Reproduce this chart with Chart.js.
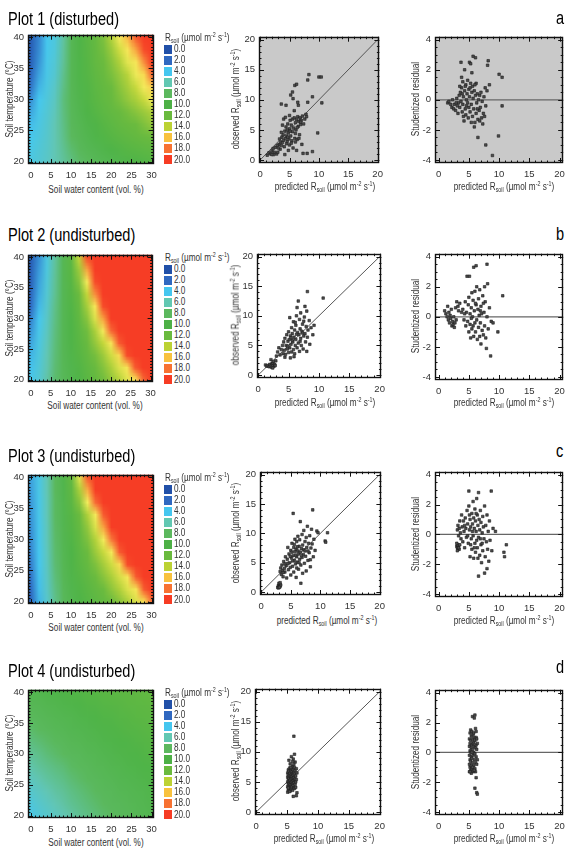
<!DOCTYPE html>
<html lang="en">
<head>
<meta charset="UTF-8">
<title>Soil respiration model fits</title>
<script src="https://cdn.jsdelivr.net/npm/chart.js"></script>
<style>
  body { margin: 0; background: #fff; }
  #fig { position: relative; width: 569px; height: 858px; overflow: hidden;
         font-family: 'Liberation Sans', Arial, sans-serif; color: #222; }
  #fig canvas { position: absolute; }
  .t { position: absolute; white-space: nowrap; line-height: 1; }
  .big { font-size: 18px; color: #000; transform: scaleX(0.81); transform-origin: 0 50%; }
  .lab { font-size: 10px; color: #333; }
  .left { transform: scaleX(0.82); transform-origin: 0 50%; }
  .ctr { transform: translate(-50%, -50%) scaleX(0.82); }
  .rot { transform: translate(-50%, -50%) rotate(-90deg) scaleX(0.82); }
  .sb { font-size: 6.5px; vertical-align: -2px; }
  .sp { font-size: 6.5px; vertical-align: 4px; }
  .sw { position: absolute; width: 8px; height: 9px; }
</style>
</head>
<body>
<div id="fig"></div>
<script>
// ---- data ----
const swcCenters = [0, 2, 4, 6, 8, 10, 12, 14, 16, 18, 20, 22, 24, 26, 28, 30];
const tempCenters = [40, 38, 36, 34, 32, 30, 28, 26, 24, 22, 20];

const heat1 = [
  [1.0, 2.6, 4.0, 4.6, 6.5, 8.8, 10.0, 10.8, 11.6, 12.4, 13.5, 14.8, 16.5, 19.0, 21.0, 22.0],
  [1.1, 2.7, 4.1, 4.7, 6.6, 8.8, 9.9, 10.7, 11.5, 12.2, 13.0, 14.0, 15.3, 17.0, 19.5, 21.5],
  [1.3, 2.9, 4.2, 4.9, 6.7, 8.8, 9.8, 10.6, 11.4, 12.0, 12.6, 13.4, 14.3, 15.3, 17.5, 20.5],
  [1.7, 3.2, 4.3, 5.1, 6.9, 8.8, 9.8, 10.5, 11.2, 11.8, 12.3, 12.9, 13.6, 14.5, 15.8, 18.5],
  [2.2, 3.6, 4.5, 5.4, 7.1, 8.7, 9.6, 10.3, 11.0, 11.5, 12.0, 12.6, 13.2, 13.9, 14.8, 16.0],
  [2.8, 4.0, 4.7, 5.6, 7.3, 8.6, 9.5, 10.2, 10.8, 11.3, 11.8, 12.3, 12.8, 13.3, 13.9, 14.5],
  [3.3, 4.2, 4.9, 5.8, 7.2, 8.5, 9.3, 10.0, 10.5, 11.0, 11.4, 11.8, 12.2, 12.6, 13.0, 13.4],
  [3.8, 4.4, 5.1, 6.0, 7.1, 8.3, 9.0, 9.6, 10.1, 10.6, 11.0, 11.4, 11.7, 12.0, 12.4, 12.8],
  [4.1, 4.6, 5.2, 6.0, 7.0, 8.0, 8.7, 9.3, 9.8, 10.2, 10.6, 10.9, 11.2, 11.5, 11.8, 12.0],
  [4.3, 4.8, 5.3, 6.0, 6.8, 7.6, 8.3, 8.8, 9.2, 9.6, 10.0, 10.3, 10.6, 10.8, 11.0, 11.2],
  [4.5, 4.9, 5.4, 6.0, 6.6, 7.2, 7.8, 8.2, 8.6, 9.0, 9.3, 9.6, 9.9, 10.1, 10.3, 10.5]
];
const heat2 = [
  [1.0, 2.8, 4.5, 6.5, 8.8, 11.0, 13.8, 19.5, 21, 21, 21, 21, 21, 21, 21, 21],
  [1.2, 3.0, 4.6, 6.6, 8.8, 10.8, 13.0, 17.0, 21, 21, 21, 21, 21, 21, 21, 21],
  [1.4, 3.2, 4.8, 6.7, 8.8, 10.6, 12.5, 14.8, 19.5, 21, 21, 21, 21, 21, 21, 21],
  [1.7, 3.4, 5.0, 6.8, 8.8, 10.4, 12.0, 13.8, 17.5, 21, 21, 21, 21, 21, 21, 21],
  [2.0, 3.7, 5.2, 7.0, 8.8, 10.2, 11.6, 13.2, 15.2, 19.5, 21, 21, 21, 21, 21, 21],
  [2.5, 4.0, 5.4, 7.1, 8.8, 10.1, 11.3, 12.6, 14.2, 17.0, 20.5, 21, 21, 21, 21, 21],
  [2.9, 4.2, 5.6, 7.2, 8.8, 10.0, 11.0, 12.1, 13.3, 14.8, 18.5, 21, 21, 21, 21, 21],
  [3.3, 4.4, 5.8, 7.3, 8.8, 9.9, 10.8, 11.8, 12.8, 13.8, 15.3, 19.0, 21, 21, 21, 21],
  [3.6, 4.6, 6.0, 7.4, 8.7, 9.7, 10.6, 11.4, 12.2, 13.0, 14.0, 15.8, 19.5, 21, 21, 21],
  [3.9, 4.8, 6.1, 7.5, 8.6, 9.5, 10.3, 11.1, 11.8, 12.5, 13.3, 14.2, 15.5, 19.0, 21, 21],
  [4.2, 5.0, 6.3, 7.6, 8.5, 9.3, 10.1, 10.8, 11.5, 12.1, 12.8, 13.5, 14.3, 15.2, 18.5, 21]
];
const heat3 = [
  [3.2, 4.3, 6.0, 8.0, 9.6, 11.6, 14.3, 19.0, 21, 21, 21, 21, 21, 21, 21, 21],
  [3.1, 4.3, 6.0, 8.0, 9.5, 11.2, 13.3, 16.8, 20.5, 21, 21, 21, 21, 21, 21, 21],
  [3.0, 4.2, 5.9, 7.9, 9.4, 10.9, 12.6, 14.6, 18.5, 21, 21, 21, 21, 21, 21, 21],
  [2.9, 4.2, 5.9, 7.9, 9.3, 10.6, 12.0, 13.4, 15.0, 19.0, 21, 21, 21, 21, 21, 21],
  [2.8, 4.1, 5.8, 7.8, 9.2, 10.4, 11.6, 12.8, 14.2, 17.0, 20.5, 21, 21, 21, 21, 21],
  [2.7, 4.1, 5.8, 7.7, 9.1, 10.2, 11.3, 12.4, 13.5, 14.7, 18.0, 21, 21, 21, 21, 21],
  [2.6, 4.0, 5.7, 7.6, 9.0, 10.0, 11.0, 12.0, 13.0, 13.9, 15.0, 19.0, 21, 21, 21, 21],
  [2.4, 4.0, 5.6, 7.5, 8.9, 9.9, 10.8, 11.6, 12.4, 13.2, 14.0, 15.8, 19.5, 21, 21, 21],
  [2.2, 3.9, 5.5, 7.3, 8.7, 9.7, 10.5, 11.2, 11.9, 12.6, 13.3, 14.1, 15.2, 19.0, 21, 21],
  [1.9, 3.8, 5.4, 7.1, 8.5, 9.5, 10.2, 10.8, 11.4, 12.0, 12.7, 13.4, 14.2, 15.5, 19.0, 21],
  [1.6, 3.6, 5.2, 6.9, 8.3, 9.3, 10.0, 10.5, 11.0, 11.5, 12.0, 12.6, 13.3, 14.2, 15.6, 18.5]
];
const heat4 = [
  [9.2, 9.4, 9.6, 9.8, 10.0, 10.2, 10.3, 10.5, 10.6, 10.8, 10.9, 11.0, 11.1, 11.2, 11.3, 11.4],
  [8.7, 8.9, 9.2, 9.4, 9.6, 9.8, 10.0, 10.2, 10.3, 10.5, 10.6, 10.7, 10.9, 11.0, 11.1, 11.2],
  [8.2, 8.5, 8.7, 9.0, 9.2, 9.4, 9.6, 9.8, 10.0, 10.2, 10.3, 10.5, 10.6, 10.8, 10.9, 11.0],
  [7.7, 8.0, 8.3, 8.6, 8.8, 9.1, 9.3, 9.5, 9.7, 9.9, 10.1, 10.2, 10.4, 10.5, 10.7, 10.8],
  [7.2, 7.5, 7.8, 8.1, 8.4, 8.7, 8.9, 9.2, 9.4, 9.6, 9.8, 10.0, 10.1, 10.3, 10.4, 10.6],
  [6.7, 7.0, 7.4, 7.7, 8.0, 8.3, 8.5, 8.8, 9.0, 9.3, 9.5, 9.7, 9.9, 10.0, 10.2, 10.4],
  [6.2, 6.6, 6.9, 7.2, 7.5, 7.9, 8.2, 8.4, 8.7, 8.9, 9.2, 9.4, 9.6, 9.8, 10.0, 10.1],
  [5.7, 6.1, 6.5, 6.8, 7.1, 7.5, 7.8, 8.1, 8.3, 8.6, 8.8, 9.1, 9.3, 9.5, 9.7, 9.9],
  [5.2, 5.6, 6.0, 6.4, 6.7, 7.1, 7.4, 7.7, 8.0, 8.3, 8.5, 8.8, 9.0, 9.2, 9.4, 9.7],
  [4.7, 5.2, 5.6, 6.0, 6.4, 6.8, 7.1, 7.4, 7.7, 8.0, 8.3, 8.5, 8.7, 9.0, 9.2, 9.5],
  [4.3, 4.8, 5.2, 5.6, 6.0, 6.4, 6.8, 7.1, 7.4, 7.7, 8.0, 8.3, 8.5, 8.8, 9.0, 9.3]
];

const legendValues = ['0.0', '2.0', '4.0', '6.0', '8.0', '10.0', '12.0', '14.0', '16.0', '18.0', '20.0'];

// [predicted, observed]
const plot1Obs = [[1.2,0.8],[1.5,1.2],[1.8,1.0],[2.0,1.5],[2.2,1.9],[2.4,1.3],[2.6,2.1],[2.8,1.0],[2.3,0.9],[3.0,1.3],
  [3.2,2.6],[3.4,1.8],[3.5,3.0],[3.6,2.4],[3.7,3.8],[3.8,2.9],[3.9,4.2],[4.0,3.3],[4.1,2.2],[4.2,0.9],
  [4.2,4.8],[4.3,3.6],[4.4,5.5],[4.5,2.7],[4.5,4.0],[4.6,3.1],[4.7,6.0],[4.8,4.5],[4.9,3.5],[5.0,5.2],
  [5.0,2.5],[5.1,6.6],[5.2,4.0],[5.3,5.8],[5.4,3.2],[5.5,6.8],[5.5,4.7],[5.6,2.0],[5.7,5.3],[5.8,7.0],
  [5.9,3.6],[6.0,6.2],[6.0,4.4],[6.1,5.0],[6.2,6.7],[6.3,3.4],[6.4,7.2],[6.5,5.6],[6.6,6.4],[6.7,4.2],
  [6.8,7.0],[6.9,5.9],[7.0,6.6],[7.1,2.6],[7.2,7.3],[7.4,6.0],[7.6,6.8],[7.8,7.6],[4.0,6.8],[3.8,5.8],
  [4.3,7.1],[5.0,7.4],[4.6,5.0],[3.6,4.6],[5.8,8.2],[6.0,3.0],[6.6,3.6],[6.2,1.6],[5.3,2.8],[4.8,1.6],
  [7.3,1.1],[8.0,1.1],[8.9,1.4],[9.8,4.5],[3.6,9.3],[4.4,9.1],[5.2,10.8],[5.5,11.3],[5.6,10.2],[5.9,12.4],
  [6.2,12.6],[6.4,9.6],[6.5,9.1],[8.1,9.6],[8.9,10.5],[10.5,9.5],[8.3,14.2],[8.1,13.3],[10.0,13.8],[10.4,13.8],
  [7.9,7.2],[6.9,6.3],[6.3,5.4],[5.1,4.8],[4.7,3.8],[3.3,3.5],[2.9,2.4],[2.0,0.9],[3.1,2.0]];
// [predicted, studentized residual]
const plot1Res = [[1.5,-0.2],[1.7,-0.1],[2.0,-0.3],[2.2,-0.5],[2.3,0.0],[2.5,-0.6],[2.6,-0.3],[2.8,-0.7],[3.0,0.1],[3.1,-0.4],
  [3.2,-0.9],[3.3,-0.2],[3.4,0.3],[3.5,-0.5],[3.6,0.5],[3.7,2.5],[3.7,-0.1],[3.8,1.5],[3.8,0.8],[3.9,-0.8],
  [4.0,1.2],[4.0,-0.3],[4.1,0.2],[4.2,-1.4],[4.3,2.0],[4.3,0.6],[4.4,-0.6],[4.5,1.0],[4.5,-1.0],[4.6,0.0],
  [4.7,0.4],[4.8,-0.2],[4.9,-1.2],[5.0,0.7],[5.0,-0.5],[5.1,2.5],[5.1,0.2],[5.2,-0.8],[5.3,2.4],[5.3,1.1],
  [5.4,-0.3],[5.5,1.8],[5.5,0.5],[5.6,-1.1],[5.7,2.9],[5.7,0.1],[5.8,-0.6],[5.9,0.6],[5.9,-1.8],[6.0,-1.5],
  [6.1,2.8],[6.1,0.3],[6.2,1.1],[6.2,-0.9],[6.3,-0.2],[6.4,0.4],[6.5,-1.3],[6.5,-2.5],[6.6,0.0],[6.7,-0.7],
  [6.8,0.3],[6.9,-0.5],[7.0,0.5],[7.1,-1.2],[7.2,-0.1],[7.4,-0.9],[7.5,0.2],[7.6,-1.1],[7.8,-0.4],[7.8,-3.0],
  [8.0,0.6],[8.1,2.3],[8.2,2.6],[8.4,1.0],[8.9,-3.7],[9.9,-2.4],[10.0,1.7],[10.5,1.5],[10.5,-0.4],[4.4,0.9],
  [4.8,1.3],[5.2,0.8],[3.9,0.4],[4.6,-0.4],[5.6,0.9],[6.0,1.0],[6.4,-0.6],[3.5,0.9],[4.1,-1.1],[5.4,-1.5],
  [2.9,-0.2],[6.8,-1.4],[7.3,-1.6],[7.7,0.8]];

const plot2Obs = [[1.2,1.7],[1.4,1.5],[1.6,1.6],[1.8,1.4],[1.9,1.8],[2.0,1.5],[2.1,2.6],[2.2,1.3],[2.3,1.9],[2.4,2.0],
  [2.5,2.3],[2.6,1.5],[2.7,1.8],[2.8,1.6],[2.9,2.4],[2.4,1.2],[3.0,3.2],[3.2,3.9],[3.4,4.6],[3.6,3.4],
  [3.8,4.3],[4.0,5.0],[4.1,3.6],[4.2,5.6],[4.3,4.2],[4.4,6.2],[4.5,3.5],[4.6,5.0],[4.7,6.8],[4.8,4.4],
  [4.9,5.7],[5.0,3.8],[5.0,7.3],[5.1,6.0],[5.2,4.6],[5.2,9.7],[5.3,2.9],[5.3,6.6],[5.4,5.2],[5.5,8.0],
  [5.5,3.9],[5.6,7.0],[5.7,5.6],[5.8,4.3],[5.8,9.0],[5.9,6.4],[6.0,7.6],[6.0,3.6],[6.1,5.0],[6.2,8.4],
  [6.2,6.0],[6.3,10.0],[6.4,11.4],[6.4,4.6],[6.5,7.2],[6.6,12.5],[6.6,5.4],[6.7,6.8],[6.8,9.4],[6.8,4.0],
  [6.9,7.8],[7.0,6.2],[7.0,10.5],[7.1,5.0],[7.2,7.4],[7.3,8.6],[7.4,4.4],[7.5,6.6],[7.6,9.8],[7.7,11.6],
  [7.7,7.0],[7.8,5.6],[7.9,8.2],[8.0,4.0],[8.0,10.8],[8.1,14.1],[8.1,6.4],[8.2,7.6],[8.4,9.2],[8.5,5.2],
  [8.7,8.0],[9.2,8.4],[9.0,6.8],[10.7,13.0],[5.6,5.9],[6.3,6.9],[4.9,4.9],[7.3,7.1],[6.9,5.7],[5.4,6.3],
  [6.1,8.9],[7.5,9.1],[4.4,3.0],[5.9,3.1]];
const plot2Res = [[1.0,0.4],[1.2,0.2],[1.4,0.0],[1.5,0.7],[1.6,-0.2],[1.7,0.3],[1.8,-0.4],[1.9,0.1],[2.0,-0.1],[2.1,0.5],
  [2.2,-0.6],[2.3,-0.3],[2.4,-0.5],[2.5,0.0],[2.6,-0.7],[2.7,-0.4],[2.8,0.6],[2.9,-0.2],[3.0,1.0],[3.2,0.7],
  [3.5,0.9],[3.8,0.3],[4.0,0.5],[4.2,-0.2],[4.4,1.0],[4.5,-0.6],[4.6,0.3],[4.7,2.7],[4.8,-0.3],[4.9,0.8],
  [5.0,-1.0],[5.0,1.3],[5.1,2.7],[5.2,0.2],[5.2,-0.5],[5.3,-1.4],[5.4,0.6],[5.5,1.6],[5.5,-0.8],[5.6,0.0],
  [5.7,1.1],[5.8,3.3],[5.8,-1.3],[5.9,0.4],[6.0,-0.4],[6.0,1.7],[6.1,-1.0],[6.2,3.4],[6.2,0.8],[6.3,2.0],
  [6.3,-0.2],[6.4,-1.5],[6.5,0.5],[6.6,1.2],[6.6,-0.7],[6.7,0.1],[6.8,-1.3],[6.8,1.8],[6.9,-0.4],[7.0,0.7],
  [7.0,-1.8],[7.1,0.2],[7.2,-0.9],[7.3,1.4],[7.4,-1.2],[7.5,0.3],[7.6,2.0],[7.6,-0.6],[7.7,1.0],[7.8,-1.4],
  [7.9,-2.1],[8.0,3.5],[8.0,0.0],[8.1,2.2],[8.2,-0.8],[8.4,0.6],[8.6,-2.6],[8.7,-0.3],[9.0,-0.4],[9.8,-1.0],
  [10.6,1.4],[5.4,-0.1],[6.1,0.9],[5.7,-0.6],[6.9,0.4],[7.4,0.9],[4.3,0.2],[3.3,0.4]];

const plot3Obs = [[2.8,0.8],[2.9,1.1],[3.0,0.9],[3.1,1.3],[3.2,1.0],[3.0,1.5],[2.9,0.7],[3.3,1.2],[3.1,0.8],[3.2,1.6],
  [3.2,3.5],[3.3,4.1],[3.4,3.0],[3.5,4.6],[3.6,3.7],[3.7,2.6],[3.8,5.2],[3.9,4.0],[4.0,3.4],[4.1,6.0],
  [4.2,4.5],[4.3,2.4],[4.4,5.6],[4.5,7.6],[4.6,3.8],[4.7,6.5],[4.8,5.0],[4.9,4.2],[5.0,7.1],[5.0,2.9],
  [5.1,5.8],[5.2,6.8],[5.2,8.3],[5.3,4.4],[5.4,13.4],[5.4,6.2],[5.5,7.6],[5.5,3.4],[5.6,5.4],[5.7,9.0],
  [5.7,6.9],[5.8,4.8],[5.9,7.3],[5.9,2.5],[6.0,6.0],[6.0,8.6],[6.1,5.1],[6.2,7.0],[6.2,9.5],[6.3,3.9],
  [6.3,6.5],[6.4,7.8],[6.5,5.6],[6.5,8.9],[6.6,12.0],[6.6,6.8],[6.7,1.5],[6.7,4.6],[6.8,7.4],[6.9,9.8],
  [6.9,5.9],[7.0,3.2],[7.0,8.0],[7.1,6.4],[7.2,10.5],[7.2,7.2],[7.3,4.9],[7.4,8.6],[7.5,6.1],[7.6,9.3],
  [7.6,3.6],[7.7,7.6],[7.8,11.2],[7.9,5.4],[8.0,8.3],[8.1,6.7],[8.2,9.6],[8.3,4.3],[8.4,7.5],[8.5,10.7],
  [8.6,8.2],[8.7,14.0],[8.8,6.0],[8.9,9.0],[9.1,7.1],[9.4,10.4],[9.6,10.1],[10.8,8.7],[10.9,8.5],[11.2,10.1],
  [4.5,4.9],[5.8,6.3],[6.1,7.7],[6.8,6.2],[5.3,5.3],[4.0,4.8],[7.4,7.0],[6.4,5.0],[5.6,8.1],[3.7,3.3],
  [4.9,6.1],[6.0,4.1],[7.9,7.0],[8.3,5.5]];
const plot3Res = [[3.0,-0.8],[3.1,-0.9],[3.2,-1.0],[3.3,-0.8],[3.2,-0.7],[3.4,-1.0],[3.1,-1.1],[3.3,-0.9],[3.0,-0.6],[3.5,-0.7],
  [3.1,0.3],[3.2,0.6],[3.3,-0.1],[3.4,0.4],[3.5,0.9],[3.6,0.1],[3.7,-0.3],[3.8,1.3],[3.9,0.5],[4.0,-0.5],
  [4.1,0.9],[4.2,0.2],[4.3,-0.9],[4.4,1.1],[4.5,0.4],[4.6,-0.2],[4.7,1.6],[4.8,0.7],[4.9,-0.6],[5.0,2.9],
  [5.0,1.9],[5.1,0.3],[5.2,-1.5],[5.2,1.0],[5.3,0.5],[5.4,-0.3],[5.5,1.4],[5.5,-1.0],[5.6,0.7],[5.7,2.2],
  [5.7,-0.1],[5.8,1.1],[5.8,-1.6],[5.9,0.4],[6.0,-0.6],[6.0,1.7],[6.1,0.9],[6.1,-1.2],[6.2,0.2],[6.3,2.4],
  [6.3,-0.4],[6.4,1.3],[6.4,-0.9],[6.5,0.6],[6.6,2.8],[6.6,-2.8],[6.6,-0.2],[6.7,1.0],[6.8,-1.4],[6.8,0.3],
  [6.9,1.6],[7.0,-0.7],[7.0,0.8],[7.1,-1.9],[7.2,0.1],[7.3,1.2],[7.3,-1.1],[7.4,0.5],[7.5,-0.3],[7.6,-2.6],
  [7.6,1.9],[7.7,-1.5],[7.8,0.6],[7.9,-0.5],[8.0,-2.3],[8.0,1.3],[8.1,-1.0],[8.2,0.2],[8.3,-1.8],[8.4,0.9],
  [8.5,-0.4],[8.7,2.9],[8.8,-1.1],[9.0,0.4],[9.4,0.2],[10.8,-1.2],[10.9,-1.5],[11.2,-0.7],[4.8,-0.1],[5.6,0.2],
  [6.2,1.4],[5.3,-0.7],[6.9,-0.3],[4.3,0.6],[5.9,-0.9],[7.2,-0.6],[6.5,-1.6],[5.1,1.3]];

const plot4Obs = [[5.1,3.3],[5.1,4.2],[5.1,5.0],[5.1,5.8],[5.1,6.5],[5.2,3.7],[5.2,4.6],[5.2,5.4],[5.2,6.2],[5.2,7.0],
  [5.3,3.9],[5.3,4.8],[5.3,5.6],[5.3,6.8],[5.3,8.6],[5.4,4.3],[5.4,5.1],[5.4,6.0],[5.4,7.3],[5.5,3.5],
  [5.5,4.6],[5.5,5.3],[5.5,6.4],[5.5,8.0],[5.6,4.1],[5.6,4.9],[5.6,5.8],[5.6,6.9],[5.7,3.8],[5.7,4.5],
  [5.7,5.5],[5.7,6.2],[5.7,7.2],[5.7,9.2],[5.8,4.2],[5.8,5.0],[5.8,5.9],[5.8,6.7],[5.9,3.6],[5.9,4.7],
  [5.9,5.6],[5.9,6.4],[5.9,7.6],[6.0,2.6],[6.0,4.4],[6.0,5.2],[6.0,6.1],[6.0,7.0],[6.0,8.8],[6.1,12.6],
  [6.1,4.0],[6.1,4.9],[6.1,5.7],[6.1,6.6],[6.2,3.9],[6.2,5.3],[6.2,6.3],[6.2,7.4],[6.2,9.6],[6.3,4.6],
  [6.3,5.5],[6.3,6.9],[6.3,8.3],[6.4,4.1],[6.4,5.0],[6.4,6.0],[6.5,2.7],[6.5,5.4],[6.5,7.2],[6.6,3.2],
  [6.6,6.5],[5.4,3.4],[5.6,7.4],[5.9,8.4],[5.2,4.0],[6.1,7.9]];
const plot4Res = [[5.1,-1.3],[5.1,-0.8],[5.1,-0.2],[5.1,0.4],[5.1,0.9],[5.2,-1.0],[5.2,-0.5],[5.2,0.1],[5.2,0.6],[5.2,1.3],
  [5.3,-1.2],[5.3,-0.6],[5.3,0.0],[5.3,0.8],[5.3,1.5],[5.4,-0.9],[5.4,-0.3],[5.4,0.3],[5.4,1.1],[5.5,-1.1],
  [5.5,-0.4],[5.5,0.5],[5.5,1.4],[5.6,2.4],[5.6,-0.7],[5.6,0.2],[5.6,0.9],[5.7,-1.3],[5.7,-0.2],[5.7,0.6],
  [5.7,1.2],[5.8,-0.9],[5.8,0.0],[5.8,0.7],[5.9,2.3],[5.9,-0.5],[5.9,0.4],[5.9,1.0],[6.0,2.5],[6.0,-2.4],
  [6.0,-1.1],[6.0,-0.1],[6.0,0.8],[6.1,-0.7],[6.1,0.3],[6.1,1.6],[6.2,-1.7],[6.2,-0.3],[6.2,0.5],[6.2,1.0],
  [6.3,-2.7],[6.3,-0.8],[6.3,0.2],[6.3,0.9],[6.4,-2.8],[6.4,-0.5],[6.4,0.6],[5.4,-1.4],[5.6,-1.0],[5.8,1.3],
  [6.1,-1.3],[5.2,-1.3],[5.5,0.0],[5.9,-1.2],[6.2,1.4]];

const oneToOne = [0, 20];
const zeroLineX = [-1, 21];
const heatXTicks = [0, 5, 10, 15, 20, 25, 30];
const heatYTicks = [20, 25, 30, 35, 40];
const predTicks = [0, 5, 10, 15, 20];
const obsTicks = [0, 5, 10, 15, 20];
const residTicks = [-4, -2, 0, 2, 4];

// ---- styling / layout ----
const FONT = "'Liberation Sans',Arial,sans-serif";
const RAMP = [[0,'#1f4ea6'],[2,'#2f6cc4'],[4,'#46c7ef'],[6,'#62c6b4'],[8,'#5bb95e'],[10,'#4fb448'],
  [12,'#6bbb3f'],[13.8,'#c2d63a'],[14.6,'#f2ec5c'],[15.6,'#f8e456'],[16.6,'#f9b444'],[18,'#f7783a'],[20,'#f63d25']];
const KEY_COLORS = ['#2150a8','#3068c0','#45c6ef','#62c8b2','#5cb85e','#4db046','#6aba3e','#bcd234','#f8c23e','#f77232','#f63c24'];

const rows = [
  { title: 'Plot 1 (disturbed)', letter: 'a', tb: 25, lb: 24, grey: true,
    heat: [28, 33, 157, 164], scat: [259, 35, 383, 163], res: [435, 35, 565, 163], hx: 190, sx: 187,
    grid: heat1, obs: plot1Obs, resid: plot1Res },
  { title: 'Plot 2 (undisturbed)', letter: 'b', tb: 241, lb: 240, grey: false,
    heat: [28, 253, 156, 382], scat: [257, 252, 385, 378], res: [435, 252, 565, 380], hx: 406, sx: 403,
    grid: heat2, obs: plot2Obs, resid: plot2Res },
  { title: 'Plot 3 (undisturbed)', letter: 'c', tb: 462, lb: 457, grey: false,
    heat: [28, 473, 157, 604], scat: [260, 470, 385, 595], res: [435, 470, 565, 597], hx: 628, sx: 621,
    grid: heat3, obs: plot3Obs, resid: plot3Res },
  { title: 'Plot 4 (undisturbed)', letter: 'd', tb: 677, lb: 673, grey: false,
    heat: [28, 688, 157, 818], scat: [255, 687, 385, 815], res: [435, 688, 565, 815], hx: 843, sx: 839,
    grid: heat4, obs: plot4Obs, resid: plot4Res }
];

const fig = document.getElementById('fig');
const PAD_T = 8, PAD_R = 6, XH = 18;

function rampColor(v) {
  if (v <= RAMP[0][0]) return RAMP[0][1];
  for (let i = 1; i < RAMP.length; i++) {
    if (v <= RAMP[i][0]) {
      const [a, ca] = RAMP[i - 1], [b, cb] = RAMP[i];
      const f = (v - a) / (b - a);
      const pa = [1, 3, 5].map(k => parseInt(ca.substr(k, 2), 16));
      const pb = [1, 3, 5].map(k => parseInt(cb.substr(k, 2), 16));
      return 'rgb(' + pa.map((c, j) => Math.round(c + (pb[j] - c) * f)).join(',') + ')';
    }
  }
  return RAMP[RAMP.length - 1][1];
}

// colour-map cells: one texel per cell, placed on the x/y scales, drawn with smoothing
const heatCells = {
  id: 'heatCells',
  beforeDatasetsDraw(chart) {
    const ds = chart.data.datasets[0];
    if (!ds.isHeat) return;
    const { ctx, chartArea: a, scales: { x, y } } = chart;
    const cols = ds.cols, nrows = ds.data.length / cols;
    const off = document.createElement('canvas');
    off.width = cols; off.height = nrows;
    const oc = off.getContext('2d');
    ds.data.forEach((p, k) => {
      oc.fillStyle = rampColor(p.v);
      oc.fillRect(k % cols, Math.floor(k / cols), 1, 1);
    });
    const first = ds.data[0], last = ds.data[ds.data.length - 1];
    const x0 = x.getPixelForValue(first.x - 1), x1 = x.getPixelForValue(last.x + 1);
    const y0 = y.getPixelForValue(first.y + 1), y1 = y.getPixelForValue(last.y - 1);
    ctx.save();
    ctx.beginPath(); ctx.rect(a.left, a.top, a.width, a.height); ctx.clip();
    ctx.imageSmoothingEnabled = true;
    ctx.imageSmoothingQuality = 'low';
    ctx.drawImage(off, x0, y0, x1 - x0, y1 - y0);
    ctx.restore();
  }
};

// box frame with inward ticks on all four sides
const frame = {
  id: 'frame',
  beforeDatasetsDraw(chart, args, o) {
    if (!o.bg) return;
    const { ctx, chartArea: a } = chart;
    ctx.save(); ctx.fillStyle = o.bg; ctx.fillRect(a.left, a.top, a.width, a.height); ctx.restore();
  },
  afterDatasetsDraw(chart, args, o) {
    const { ctx, chartArea: a, scales: { x, y } } = chart;
    ctx.save();
    ctx.strokeStyle = '#111'; ctx.lineWidth = 1;
    ctx.beginPath();
    const near = (v, m) => Math.abs(v / m - Math.round(v / m)) < 1e-6;
    for (let k = Math.ceil(x.min / o.xs); k * o.xs <= x.max; k++) {
      const v = k * o.xs, px = Math.round(x.getPixelForValue(v)) + 0.5, L = near(v, o.xm) ? 5 : 2.5;
      ctx.moveTo(px, a.top); ctx.lineTo(px, a.top + L);
      ctx.moveTo(px, a.bottom); ctx.lineTo(px, a.bottom - L);
    }
    for (let k = Math.ceil(y.min / o.ys); k * o.ys <= y.max; k++) {
      const v = k * o.ys, py = Math.round(y.getPixelForValue(v)) + 0.5, L = near(v, o.ym) ? 5 : 2.5;
      ctx.moveTo(a.left, py); ctx.lineTo(a.left + L, py);
      ctx.moveTo(a.right, py); ctx.lineTo(a.right - L, py);
    }
    ctx.stroke();
    ctx.lineWidth = 1.4;
    ctx.strokeRect(Math.round(a.left) + 0.5, Math.round(a.top) + 0.5, Math.round(a.width) - 1, Math.round(a.height) - 1);
    ctx.restore();
  }
};

function axis(range, ticks, isY, yw) {
  return {
    type: 'linear', min: range[0], max: range[1],
    grid: { display: false, drawTicks: false }, border: { display: false },
    afterBuildTicks: s => { s.ticks = ticks.map(v => ({ value: v })); },
    afterFit: s => { if (isY) s.width = yw; else s.height = XH; },
    ticks: { font: { family: FONT, size: 9.5 }, color: '#333', padding: isY ? 4 : 6,
             autoSkip: false, maxRotation: 0, callback: v => String(v) }
  };
}

function panel(box, yw, datasets, xr, yr, xt, yt, fr) {
  const [l, t, r, b] = box;
  const W = (r - l) + yw + PAD_R, H = (b - t) + PAD_T + XH;
  const cv = document.createElement('canvas');
  cv.width = W; cv.height = H;
  cv.style.left = (l - yw) + 'px'; cv.style.top = (t - PAD_T) + 'px';
  cv.style.width = W + 'px'; cv.style.height = H + 'px';
  fig.appendChild(cv);
  return new Chart(cv, {
    type: 'scatter',
    data: { datasets },
    options: {
      responsive: false, animation: false, devicePixelRatio: 1,
      layout: { padding: { top: PAD_T, right: PAD_R, left: 0, bottom: 0 } },
      scales: { x: axis(xr, xt, false, yw), y: axis(yr, yt, true, yw) },
      plugins: { legend: { display: false }, tooltip: { enabled: false }, frame: fr }
    },
    plugins: [heatCells, frame]
  });
}

function text(html, x, y, cls) {
  const d = document.createElement('div');
  d.className = 't ' + cls;
  d.innerHTML = html;
  d.style.left = x + 'px'; d.style.top = y + 'px';
  fig.appendChild(d);
  return d;
}

const pts = arr => arr.map(([x, y]) => ({ x, y }));
const pointStyle = { pointStyle: 'rect', pointRadius: 1.8, backgroundColor: '#4d4d4d', borderColor: '#1c1c1c', borderWidth: 0.6 };
const RSOIL = 'R<span class="sb">soil</span>';
const UNIT = '(µmol m<span class="sp">-2</span> s<span class="sp">-1</span>)';

rows.forEach(row => {
  // colour map
  const cells = [];
  tempCenters.forEach((T, i) => swcCenters.forEach((w, j) => cells.push({ x: w, y: T, v: row.grid[i][j] })));
  panel(row.heat, 28, [{ isHeat: true, cols: swcCenters.length, data: cells, pointRadius: 0 }],
        [-0.7, 30.5], [19.6, 40.4], heatXTicks, heatYTicks, { xs: 1, xm: 5, ys: 0.5, ym: 5 });

  // observed vs predicted
  panel(row.scat, 20, [
      Object.assign({ data: pts(row.obs) }, pointStyle),
      { data: oneToOne.map(v => ({ x: v, y: v })), showLine: true, pointRadius: 0, borderColor: '#555', borderWidth: 1 }
    ], [-0.2, 20.3], [-0.5, 20.5], predTicks, obsTicks,
    { xs: 1, xm: 5, ys: 1, ym: 5, bg: row.grey ? '#c9c9c9' : null });

  // residuals
  panel(row.res, 18, [
      Object.assign({ data: pts(row.resid) }, pointStyle),
      { data: zeroLineX.map(v => ({ x: v, y: 0 })), showLine: true, pointRadius: 0, borderColor: '#666', borderWidth: 1.2 }
    ], [-0.6, 20.6], [-4.2, 4.2], predTicks, residTicks,
    { xs: 1, xm: 5, ys: 0.5, ym: 2, bg: row.grey ? '#c9c9c9' : null });
});

rows.forEach(row => {
  const [hl, ht, hr, hb] = row.heat;
  text(row.title, 8, row.tb - 15, 'big');
  text(row.letter, 556, row.lb - 15, 'big');
  text('Soil water content (vol. %)', (hl + hr) / 2 + 3, row.hx, 'lab ctr');
  text('Soil temperature (°C)', 10, (ht + hb) / 2, 'lab rot');

  // colour key
  text(RSOIL + ' ' + UNIT, 165, ht - 1, 'lab left');
  legendValues.forEach((lbl, i) => {
    const cy = ht + 16 + i * 11.05;
    const sw = document.createElement('div');
    sw.className = 'sw'; sw.style.background = KEY_COLORS[i];
    sw.style.left = '164px'; sw.style.top = (cy - 4.5) + 'px';
    fig.appendChild(sw);
    text(lbl, 174, cy - 5, 'lab left');
  });

  const [sl, st, sr, sbm] = row.scat;
  text('predicted ' + RSOIL + ' ' + UNIT, (sl + sr) / 2 + 4, row.sx, 'lab ctr');
  text('observed ' + RSOIL + ' ' + UNIT, 236, (st + sbm) / 2, 'lab rot');

  const [rl, rt, rr, rb] = row.res;
  text('predicted ' + RSOIL + ' ' + UNIT, (rl + rr) / 2 + 4, row.sx, 'lab ctr');
  text('Studentized residual', 416, (rt + rb) / 2, 'lab rot');
});
</script>
</body>
</html>
